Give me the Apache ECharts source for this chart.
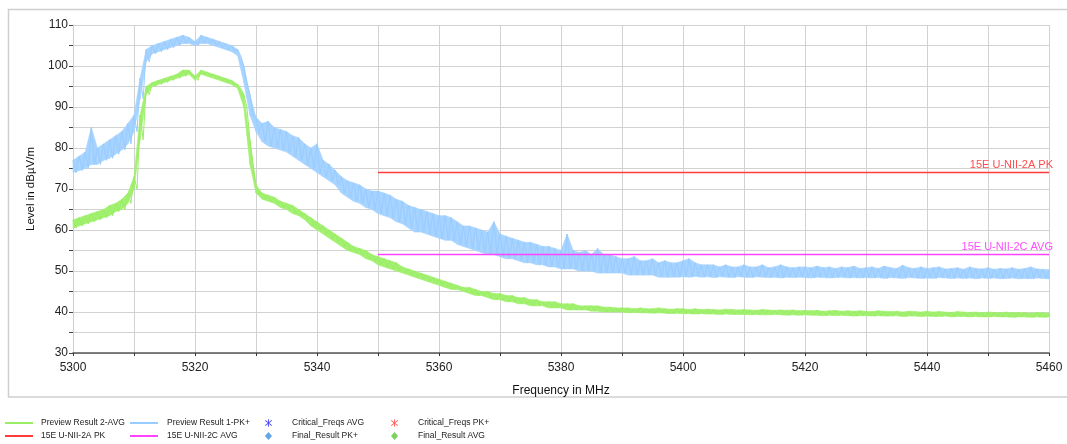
<!DOCTYPE html>
<html>
<head>
<meta charset="utf-8">
<script src="https://cdn.jsdelivr.net/npm/echarts@6/dist/echarts.min.js"></script>
<style>
html,body{margin:0;padding:0;background:#fff;}
#chart{width:1067px;height:444px;}
</style>
</head>
<body>
<div id="chart"></div>
<script>
// Frequency sampling of the read-off envelopes (MHz)
const freqStart = 5300;
const freqStep = 1;

// Preview Result 1-PK+ : upper / lower envelope of the noisy trace, one value per MHz (5300..5460)
const pkUpper = [
  77, 78, 79, 85, 80, 81, 82, 83, 84, 86,
  88, 97, 104, 105, 105.5, 106, 106.5, 107, 107.5, 107,
  106, 107.5, 107, 106.5, 106, 105.5, 105, 104, 100, 93,
  87.5, 86, 86.5, 85, 84.5, 84, 83, 82.5, 81, 80,
  81, 77, 76, 74.5, 73, 72, 71.5, 71, 70, 69.5,
  69.5, 69, 68.5, 67.5, 67, 66, 65.5, 65, 64.5, 64,
  63.5, 63.5, 63, 62, 61, 61, 60.5, 60, 59.5, 62,
  59, 58.5, 58, 57.5, 57, 57, 56.5, 56, 56, 55.5,
  55, 59, 55, 54.5, 55, 54, 55.5, 54, 54, 53.5,
  53, 53, 53.5, 52.5, 52.5, 53, 52, 52.5, 52, 52,
  52.5, 53, 52, 51.5, 51.5, 51.5, 51, 51.5, 51, 51,
  51.5, 51, 51, 51.5, 50.8, 51, 51.5, 51, 50.8, 51,
  51, 50.8, 51.2, 50.8, 51, 50.6, 51, 50.8, 51.2, 50.6,
  50.8, 51, 50.6, 51.2, 50.8, 50.6, 51.4, 50.8, 50.6, 51,
  50.6, 50.8, 51, 50.5, 50.6, 50.8, 50.4, 51, 50.6, 50.5,
  50.8, 50.4, 50.6, 50.5, 50.8, 50.4, 50.6, 51, 50.5, 50.4, 50.3
];
const pkLower = [
  74, 74.5, 75, 76, 76, 77, 77.5, 78.5, 79.5, 81,
  84, 92, 101, 103, 103.5, 104, 104.5, 105, 105.5, 105.5,
  105, 105.5, 105.5, 105, 104.5, 104, 103.5, 102.5, 96, 88,
  84, 81.5, 80.5, 80, 79.5, 79, 78, 77, 76, 75,
  74, 73, 72, 71, 69, 68, 67, 66.5, 65.5, 65,
  64, 63.5, 63, 62, 61.5, 60.5, 59.5, 59.5, 59, 58.5,
  58, 57.5, 57.5, 56.5, 56, 55.5, 55, 54.5, 54, 54,
  53.5, 53, 53, 52.5, 52, 52, 51.5, 51.5, 51, 51,
  50.5, 50.5, 50.5, 50, 50, 50, 49.5, 49.5, 49.5, 49.5,
  49.5, 49, 49, 49, 49, 49, 48.5, 48.5, 48.5, 48.5,
  48.6, 48.5, 48.7, 48.5, 48.6, 48.4, 48.6, 48.5, 48.4, 48.6,
  48.5, 48.4, 48.6, 48.5, 48.4, 48.5, 48.3, 48.5, 48.4, 48.5,
  48.4, 48.3, 48.5, 48.4, 48.3, 48.4, 48.5, 48.3, 48.4, 48.3,
  48.4, 48.3, 48.4, 48.2, 48.4, 48.3, 48.2, 48.4, 48.3, 48.2,
  48.3, 48.2, 48.4, 48.3, 48.2, 48.3, 48.2, 48.3, 48.1, 48.3,
  48.2, 48.3, 48.1, 48.2, 48.3, 48.1, 48.2, 48.1, 48.3, 48.2, 48.1
];

// Preview Result 2-AVG : upper / lower envelope, one value per MHz (5300..5460)
const avgUpper = [
  62.5, 63, 63.5, 64, 64.5, 65, 66, 66.5, 67.5, 69,
  73, 88, 95, 96, 96.5, 97, 97.5, 98, 99, 99,
  97.5, 99, 98.5, 98, 97.5, 97, 96.5, 95.5, 93, 82,
  71, 69, 68.5, 68, 67, 66.5, 66, 65, 64, 63,
  62, 61, 60, 59, 58, 57, 56, 55.5, 55, 54,
  53.5, 53, 52.5, 52, 51, 50.5, 50, 49.5, 49, 48.5,
  48, 47.5, 47, 46.5, 46, 46, 45.5, 45, 45, 44.5,
  44.5, 44, 44, 43.5, 43.5, 43, 43, 42.5, 42.5, 42.5,
  42, 42, 42, 41.5, 41.5, 41.5, 41.5, 41.2, 41.2, 41,
  41, 41, 40.8, 41, 40.8, 40.8, 41, 40.8, 40.7, 40.8,
  40.8, 40.6, 40.8, 40.6, 40.7, 40.6, 40.5, 40.7, 40.6, 40.5,
  40.6, 40.5, 40.4, 40.6, 40.5, 40.4, 40.5, 40.4, 40.5, 40.3,
  40.4, 40.3, 40.4, 40.2, 40.3, 40.4, 40.2, 40.3, 40.2, 40.3,
  40.2, 40.1, 40.3, 40.2, 40.1, 40.2, 40, 40.2, 40.1, 40,
  40.2, 40, 40.1, 40, 39.9, 40.1, 40, 39.9, 40, 39.8,
  40, 39.9, 39.8, 40, 39.8, 39.9, 39.8, 39.7, 39.9, 39.8, 39.7
];
const avgLower = [
  60.5, 61, 61.5, 62, 62.5, 63, 63.5, 64.5, 65, 66.5,
  70, 82, 93, 95, 95.5, 96, 96.5, 97, 97.5, 98,
  96.5, 98, 97.5, 97, 96.5, 96, 95.5, 94.5, 90, 76,
  69, 67.5, 67, 66.5, 65.5, 65, 64, 63.5, 62.5, 61,
  60, 59, 58, 57, 56, 55, 54.5, 54, 53, 52.5,
  51.5, 51, 50.5, 50, 49.5, 49, 48.5, 48, 47.5, 47,
  46.5, 46, 45.5, 45.5, 45, 44.5, 44, 44, 43.5, 43,
  43, 42.5, 42.5, 42, 42, 41.5, 41.5, 41.5, 41, 41,
  41, 40.5, 40.5, 40.5, 40.5, 40.2, 40.2, 40, 40, 40,
  40, 39.8, 39.9, 39.8, 39.8, 39.7, 39.8, 39.7, 39.6, 39.7,
  39.6, 39.6, 39.5, 39.6, 39.5, 39.5, 39.4, 39.5, 39.4, 39.4,
  39.4, 39.3, 39.4, 39.3, 39.3, 39.4, 39.3, 39.2, 39.3, 39.2,
  39.3, 39.2, 39.2, 39.1, 39.2, 39.1, 39.2, 39.1, 39, 39.1,
  39.1, 39, 39.1, 39, 39, 39.1, 38.9, 39, 39, 38.9,
  39, 38.9, 38.9, 39, 38.8, 38.9, 38.9, 38.8, 38.9, 38.8,
  38.8, 38.9, 38.8, 38.8, 38.7, 38.8, 38.8, 38.7, 38.8, 38.7, 38.8
];

// Limit lines
const limitPkFreqs = [5350, 5460];
const limitPkValue = 74;
const limitAvgFreqs = [5350, 5460];
const limitAvgValue = 54;

// Axis settings
const yTicks = [30, 40, 50, 60, 70, 80, 90, 100, 110];
const xTicks = [5300, 5320, 5340, 5360, 5380, 5400, 5420, 5440, 5460];

function freqAt(i) { return freqStart + i * freqStep; }

function traceData(upper, lower) {
  const out = [];
  for (let i = 0; i < upper.length; i++) {
    const f = freqAt(i);
    out.push([f, upper[i]]);
    if (i < upper.length - 1) out.push([f + freqStep / 2, lower[i]]);
    else out.push([f, lower[i]]);
  }
  return out;
}
function bandItems(upper, lower) {
  return upper.map((v, i) => [freqAt(i), v, lower[i]]);
}
function bandSeries(name, upper, lower, color, z) {
  const items = bandItems(upper, lower);
  return {
    name: name, type: 'custom', silent: true, z: z,
    encode: {x: 0, y: [1, 2]},
    renderItem: function (params, api) {
      const i = params.dataIndex;
      if (i >= items.length - 1) return null;
      const a = items[i], b = items[i + 1];
      const pts = [
        api.coord([a[0], a[1]]), api.coord([b[0], b[1]]),
        api.coord([b[0], b[2]]), api.coord([a[0], a[2]])
      ];
      return {
        type: 'polygon', shape: {points: pts},
        style: {fill: color, stroke: color, lineWidth: 0.6}
      };
    },
    data: items
  };
}

const FONT = '"Liberation Sans", Arial, sans-serif';
const chart = echarts.init(document.getElementById('chart'), null, {renderer: 'canvas'});

const asterisk = 'path://M4.4,0h1.2v10h-1.2z M0.3,2.0 L0.9,1.0 L9.7,8.0 L9.1,9.0z M0.9,9.0 L0.3,8.0 L9.1,1.0 L9.7,2.0z';

const legendText = {fontFamily: FONT, fontSize: 8.5, color: '#222', lineHeight: 13};
const legendBase = {orient: 'vertical', padding: 0, itemGap: 0, selectedMode: false};

const BLUE = '#99ccff';
const BLUE_FILL = '#a6d3ff';
const GREEN = '#99ee66';
const GREEN_FILL = '#a3f070';

const option = {
  animation: false,
  backgroundColor: '#fff',
  graphic: [{
    type: 'rect',
    shape: {x: 8.5, y: 9.5, width: 1070, height: 387.5},
    style: {fill: 'none', stroke: '#cfcfcf', lineWidth: 1.5},
    silent: true
  }],
  grid: {left: 73, right: 18, top: 25, bottom: 91, containLabel: false},
  legend: [
    Object.assign({}, legendBase, {
      left: 5, top: 416.5, itemWidth: 28, itemHeight: 2,
      textStyle: Object.assign({}, legendText, {padding: [0, 0, 0, 3]}),
      data: [{name: 'Preview Result 2-AVG', icon: 'rect'}, {name: '15E U-NII-2A PK', icon: 'rect'}]
    }),
    Object.assign({}, legendBase, {
      left: 130, top: 416.5, itemWidth: 28, itemHeight: 2,
      textStyle: Object.assign({}, legendText, {padding: [0, 0, 0, 4]}),
      data: [{name: 'Preview Result 1-PK+', icon: 'rect'}, {name: '15E U-NII-2C AVG', icon: 'rect'}]
    }),
    Object.assign({}, legendBase, {
      left: 265, top: 416.5, itemWidth: 7, itemHeight: 8,
      textStyle: Object.assign({}, legendText, {padding: [0, 0, 0, 15]}),
      data: [{name: 'Critical_Freqs AVG', icon: asterisk}, {name: 'Final_Result PK+', icon: 'diamond'}]
    }),
    Object.assign({}, legendBase, {
      left: 391, top: 416.5, itemWidth: 7, itemHeight: 8,
      textStyle: Object.assign({}, legendText, {padding: [0, 0, 0, 15]}),
      data: [{name: 'Critical_Freqs PK+', icon: asterisk}, {name: 'Final_Result AVG', icon: 'diamond'}]
    })
  ],
  xAxis: {
    type: 'value',
    min: 5300, max: 5460, interval: 10,
    name: 'Frequency in MHz',
    nameLocation: 'middle',
    nameGap: 32,
    nameTextStyle: {fontFamily: FONT, fontSize: 12, color: '#111'},
    axisLine: {show: true, onZero: false, lineStyle: {color: '#555', width: 1.5}},
    axisTick: {show: true, length: 3, lineStyle: {color: '#333'}},
    axisLabel: {
      fontFamily: FONT, fontSize: 12, color: '#222', margin: 9,
      formatter: v => (xTicks.indexOf(v) >= 0 ? String(v) : '')
    },
    splitLine: {show: true, lineStyle: {color: '#d2d2d2', width: 1}}
  },
  yAxis: {
    type: 'value',
    min: 30, max: 110, interval: 5,
    name: 'Level in dBµV/m',
    nameLocation: 'middle',
    nameGap: 31,
    nameTextStyle: {fontFamily: FONT, fontSize: 11.5, color: '#111'},
    axisLine: {show: true, lineStyle: {color: '#cfcfcf', width: 1}},
    axisTick: {show: true, length: 4, lineStyle: {color: '#444'}},
    axisLabel: {
      fontFamily: FONT, fontSize: 12, color: '#222', margin: 5,
      formatter: v => (yTicks.indexOf(v) >= 0 ? String(v) : '')
    },
    splitLine: {show: true, lineStyle: {color: '#d2d2d2', width: 1}}
  },
  series: [
    bandSeries('pk-band', pkUpper, pkLower, BLUE_FILL, 2),
    {
      name: 'Preview Result 1-PK+', type: 'line', showSymbol: false, symbol: 'none',
      color: BLUE, lineStyle: {width: 1, color: BLUE},
      data: traceData(pkUpper, pkLower), z: 3
    },
    bandSeries('avg-band', avgUpper, avgLower, GREEN_FILL, 4),
    {
      name: 'Preview Result 2-AVG', type: 'line', showSymbol: false, symbol: 'none',
      color: GREEN, lineStyle: {width: 1, color: GREEN},
      data: traceData(avgUpper, avgLower), z: 5
    },
    {
      name: '15E U-NII-2A PK', type: 'line', symbol: 'circle', symbolSize: 0, showSymbol: true,
      color: '#ff3b3b', lineStyle: {width: 1.5, color: '#ff3b3b'},
      data: [
        [limitPkFreqs[0], limitPkValue],
        {value: [limitPkFreqs[1], limitPkValue], label: {show: true, formatter: '15E U-NII-2A PK', position: 'top', align: 'right', offset: [4, 3], color: '#ff4d4d', fontFamily: FONT, fontSize: 11}}
      ],
      z: 6
    },
    {
      name: '15E U-NII-2C AVG', type: 'line', symbol: 'circle', symbolSize: 0, showSymbol: true,
      color: '#ff44ff', lineStyle: {width: 1.5, color: '#ff44ff'},
      data: [
        [limitAvgFreqs[0], limitAvgValue],
        {value: [limitAvgFreqs[1], limitAvgValue], label: {show: true, formatter: '15E U-NII-2C AVG', position: 'top', align: 'right', offset: [4, 3], color: '#ff4dff', fontFamily: FONT, fontSize: 11}}
      ],
      z: 6
    },
    {name: 'Critical_Freqs AVG', type: 'scatter', color: '#1a1aff', data: []},
    {name: 'Final_Result PK+', type: 'scatter', color: '#3d8fe0', data: []},
    {name: 'Critical_Freqs PK+', type: 'scatter', color: '#ff3333', data: []},
    {name: 'Final_Result AVG', type: 'scatter', color: '#5cc63a', data: []}
  ]
};
chart.setOption(option);
</script>
</body>
</html>
